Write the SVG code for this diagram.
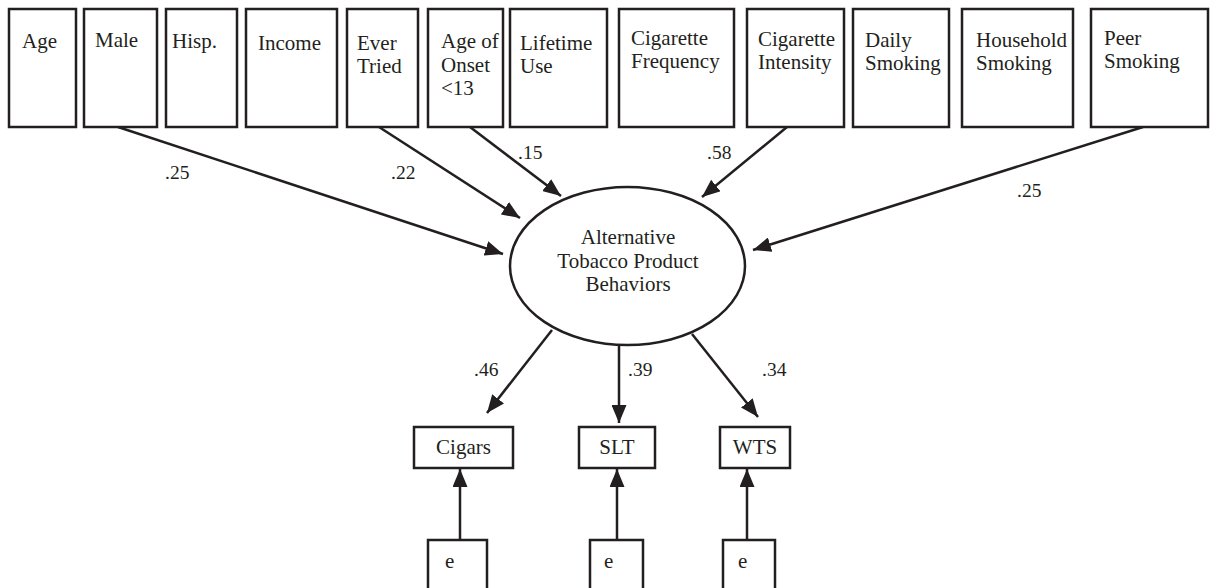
<svg xmlns="http://www.w3.org/2000/svg" width="1211" height="588" viewBox="0 0 1211 588">
<style>
.box{fill:#fff;stroke:#231f20;stroke-width:2.5}
.t{font-family:"Liberation Serif","Times New Roman",serif;font-size:21px;fill:#231f20}
.c{text-anchor:middle}
.lbl{font-family:"Liberation Serif","Times New Roman",serif;font-size:19.5px;fill:#231f20}
.ln{stroke:#231f20;stroke-width:2.5;fill:none;marker-end:url(#ah)}
</style>
<defs>
<marker id="ah" markerUnits="userSpaceOnUse" markerWidth="18" markerHeight="15" refX="18" refY="7.5" orient="auto">
<path d="M0,0 L18,7.5 L0,15 z" fill="#231f20"/>
</marker>
</defs>
<rect width="1211" height="588" fill="#fff"/>
<g id="connectors">
<line class="ln" x1="118" y1="127" x2="503" y2="254"/>
<line class="ln" x1="379" y1="127" x2="520" y2="218"/>
<line class="ln" x1="470" y1="127" x2="561" y2="196"/>
<line class="ln" x1="787" y1="127" x2="702" y2="197"/>
<line class="ln" x1="1143" y1="127" x2="753" y2="250"/>
<line class="ln" x1="552" y1="330" x2="487" y2="413"/>
<line class="ln" x1="619" y1="345" x2="619" y2="423"/>
<line class="ln" x1="692" y1="334" x2="758" y2="417"/>
<line class="ln" x1="460" y1="540" x2="460" y2="469"/>
<line class="ln" x1="617" y1="540" x2="617" y2="469"/>
<line class="ln" x1="747" y1="540" x2="747" y2="469"/>
<text class="lbl" x="165" y="179">.25</text>
<text class="lbl" x="391" y="179">.22</text>
<text class="lbl" x="518" y="159">.15</text>
<text class="lbl" x="707" y="159">.58</text>
<text class="lbl" x="1017" y="197">.25</text>
<text class="lbl" x="474" y="376">.46</text>
<text class="lbl" x="628" y="376">.39</text>
<text class="lbl" x="762" y="376">.34</text>
</g>
<g id="age"><rect class="box" x="9" y="9" width="67" height="118"/><text class="t" x="22" y="48">Age</text></g>
<g id="male"><rect class="box" x="84" y="9" width="73" height="118"/><text class="t" x="95" y="47">Male</text></g>
<g id="hisp"><rect class="box" x="166" y="9" width="71" height="118"/><text class="t" x="172" y="48">Hisp.</text></g>
<g id="income"><rect class="box" x="246" y="9" width="91" height="118"/><text class="t" x="258" y="50">Income</text></g>
<g id="evertried"><rect class="box" x="347" y="9" width="71" height="118"/><text class="t" x="357" y="50">Ever</text><text class="t" x="357" y="73">Tried</text></g>
<g id="onset"><rect class="box" x="428" y="9" width="75" height="118"/><text class="t" x="441" y="48">Age of</text><text class="t" x="441" y="72">Onset</text><text class="t" x="441" y="95">&lt;13</text></g>
<g id="lifetime"><rect class="box" x="510" y="9" width="97" height="118"/><text class="t" x="520" y="50">Lifetime</text><text class="t" x="520" y="73">Use</text></g>
<g id="cigfreq"><rect class="box" x="619" y="9" width="115" height="118"/><text class="t" x="631" y="45">Cigarette</text><text class="t" x="631" y="68">Frequency</text></g>
<g id="cigint"><rect class="box" x="747" y="9" width="97" height="118"/><text class="t" x="758" y="46">Cigarette</text><text class="t" x="758" y="69">Intensity</text></g>
<g id="daily"><rect class="box" x="853" y="9" width="96" height="118"/><text class="t" x="865" y="47">Daily</text><text class="t" x="865" y="70">Smoking</text></g>
<g id="household"><rect class="box" x="962" y="9" width="111" height="118"/><text class="t" x="976" y="47">Household</text><text class="t" x="976" y="70">Smoking</text></g>
<g id="peer"><rect class="box" x="1091" y="9" width="117" height="118"/><text class="t" x="1104" y="45">Peer</text><text class="t" x="1104" y="68">Smoking</text></g>
<g id="atpb"><ellipse class="box" cx="627.5" cy="266" rx="117.5" ry="79"/><text class="t c" x="628" y="244">Alternative</text><text class="t c" x="628" y="268">Tobacco Product</text><text class="t c" x="628" y="291">Behaviors</text></g>
<g id="cigars"><rect class="box" x="414" y="427" width="99" height="41"/><text class="t c" x="463.5" y="454">Cigars</text></g>
<g id="slt"><rect class="box" x="579" y="427" width="76" height="41"/><text class="t c" x="617" y="454">SLT</text></g>
<g id="wts"><rect class="box" x="720" y="427" width="70" height="41"/><text class="t c" x="755" y="454">WTS</text></g>
<g id="e1"><rect class="box" x="428" y="540" width="59" height="60"/><text class="t" x="445" y="568">e</text></g>
<g id="e2"><rect class="box" x="590" y="540" width="53" height="60"/><text class="t" x="604" y="568">e</text></g>
<g id="e3"><rect class="box" x="723" y="540" width="52" height="60"/><text class="t" x="738" y="568">e</text></g>
</svg>
